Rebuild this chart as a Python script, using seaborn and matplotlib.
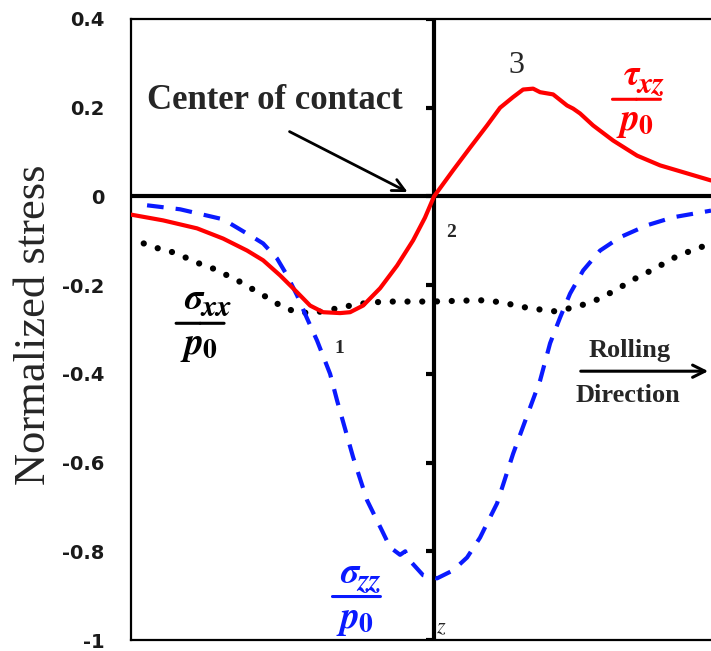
import numpy as np
import pandas as pd
import matplotlib
matplotlib.use("Agg")
import matplotlib.pyplot as plt
import seaborn as sns

# Position along the contact (normalized, 0 = center of contact)
x_txz = [-1.0, -0.894, -0.782, -0.696, -0.617, -0.564, -0.508, -0.452, -0.409, -0.366,
         -0.310, -0.277, -0.234, -0.178, -0.122, -0.069, -0.030, 0.0, 0.063, 0.119,
         0.175, 0.218, 0.261, 0.294, 0.327, 0.350, 0.393, 0.439, 0.459, 0.482,
         0.525, 0.591, 0.670, 0.746, 0.835, 0.914]
txz = [-0.041, -0.054, -0.072, -0.095, -0.122, -0.144, -0.178, -0.216, -0.246, -0.261,
       -0.263, -0.261, -0.246, -0.207, -0.156, -0.099, -0.048, 0.0, 0.059, 0.110,
       0.160, 0.200, 0.224, 0.241, 0.243, 0.235, 0.230, 0.205, 0.198, 0.187,
       0.160, 0.126, 0.092, 0.070, 0.052, 0.036]

x_szz = [-0.947, -0.838, -0.706, -0.673, -0.597, -0.564, -0.518, -0.485, -0.452, -0.419,
         -0.386, -0.343, -0.320, -0.267, -0.251, -0.221, -0.172, -0.145, -0.112, -0.095,
         -0.089, -0.036, 0.010, 0.063, 0.109, 0.152, 0.175, 0.208, 0.261, 0.317,
         0.350, 0.383, 0.416, 0.449, 0.492, 0.548, 0.614, 0.703, 0.789, 0.914]
szz = [-0.020, -0.029, -0.050, -0.061, -0.092, -0.106, -0.140, -0.178, -0.223, -0.275,
       -0.325, -0.400, -0.460, -0.588, -0.622, -0.685, -0.753, -0.791, -0.808, -0.800,
       -0.814, -0.854, -0.861, -0.843, -0.814, -0.769, -0.737, -0.692, -0.580, -0.476,
       -0.415, -0.331, -0.273, -0.219, -0.167, -0.122, -0.092, -0.065, -0.047, -0.032]

x_sxx = [-0.958, -0.911, -0.861, -0.812, -0.769, -0.719, -0.677, -0.630, -0.587, -0.545,
         -0.498, -0.452, -0.403, -0.353, -0.304, -0.254, -0.205, -0.155, -0.106, -0.056,
         -0.007, 0.046, 0.096, 0.152, 0.202, 0.251, 0.300, 0.350, 0.399, 0.449,
         0.498, 0.548, 0.591, 0.637, 0.677, 0.723, 0.769, 0.812, 0.861, 0.904]
sxx = [-0.106, -0.117, -0.126, -0.140, -0.153, -0.165, -0.180, -0.196, -0.214, -0.230,
       -0.250, -0.261, -0.263, -0.257, -0.250, -0.243, -0.239, -0.237, -0.237, -0.237,
       -0.237, -0.236, -0.235, -0.234, -0.237, -0.243, -0.250, -0.255, -0.259, -0.252,
       -0.243, -0.230, -0.214, -0.196, -0.180, -0.165, -0.147, -0.131, -0.120, -0.108]

y_ticks = [0.4, 0.2, 0.0, -0.2, -0.4, -0.6, -0.8, -1.0]
y_tick_labels = ["0.4", "0.2", "0", "-0.2", "-0.4", "-0.6", "-0.8", "-1"]

RED = "#ff0000"
BLUE = "#0a1aff"

sns.set_style("white")
plt.rcParams["mathtext.fontset"] = "stix"

fig = plt.figure(figsize=(7.11, 6.51), dpi=100)
ax = fig.add_axes([131 / 711, 11 / 651, 580 / 711, 621 / 651])

df_txz = pd.DataFrame({"x": x_txz, "stress": txz})
df_szz = pd.DataFrame({"x": x_szz, "stress": szz})
df_sxx = pd.DataFrame({"x": x_sxx, "stress": sxx})

# reference axes through the center of contact
ax.axhline(0, color="black", lw=3.0, zorder=1)
ax.axvline(0, color="black", lw=3.0, zorder=1)
ax.plot([0] * len(y_ticks), y_ticks, linestyle="none", marker=0,
        markersize=6, markeredgewidth=3, color="black", zorder=1)

sns.lineplot(data=df_sxx, x="x", y="stress", ax=ax, color="black", lw=4.5,
             linestyle=(0, (0.01, 2.35)), dash_capstyle="round",
             estimator=None, sort=False, zorder=3)
sns.lineplot(data=df_szz, x="x", y="stress", ax=ax, color=BLUE, lw=3.0,
             linestyle=(0, (4.0, 2.9)), estimator=None, sort=False, zorder=3)
sns.lineplot(data=df_txz, x="x", y="stress", ax=ax, color=RED, lw=3.0,
             estimator=None, sort=False, zorder=4)

ax.set_xlim(-1.0, 0.914)
ax.set_ylim(-1.0, 0.4)
ax.set_xticks([])
ax.set_xlabel("")
ax.set_yticks(y_ticks)
ax.set_yticklabels(y_tick_labels, fontsize=14, fontweight="bold",
                   fontfamily="DejaVu Sans", color="#1a1a1a")
ax.tick_params(axis="y", length=0, pad=19)

for side in ["left", "top", "bottom"]:
    ax.spines[side].set_linewidth(1.6)
    ax.spines[side].set_color("black")
ax.spines["right"].set_visible(False)

ax.set_ylabel("Normalized stress", fontsize=32, fontfamily="Liberation Serif")
ax.yaxis.label.set_va("center")
ax.yaxis.set_label_coords(-0.167, 0.507)

serif = "Liberation Serif"
math_font = "STIXGeneral"


def put(txt, x, y, dx, dy, **kw):
    """Place text at a data point shifted by (dx, dy) pixels (dy positive = down)."""
    ax.annotate(txt, xy=(x, y), xytext=(dx, -dy), textcoords="offset pixels",
                annotation_clip=False, **kw)


def stress_fraction(x, y, symbol, sub, color):
    """Draw symbol_sub / p_0 as a stacked fraction centred on (x, y)."""
    style = dict(fontfamily=math_font, fontstyle="italic", fontweight="bold",
                 color=color, va="baseline")
    put(symbol, x, y, 2, -14, ha="right", fontsize=26, **style)
    put(sub, x, y, 1, -7, ha="left", fontsize=22, **style)
    put("p", x, y, 3, 31, ha="right", fontsize=27, **style)
    put("0", x, y, 2, 35, ha="left", fontsize=20, color=color, va="baseline",
        fontfamily=math_font, fontweight="bold")
    ax.annotate("", xy=(x, y), xytext=(-24, 0), textcoords="offset pixels",
                arrowprops=dict(arrowstyle="-", lw=2.2, color=color,
                                shrinkA=0, shrinkB=0))
    ax.annotate("", xy=(x, y), xytext=(24, 0), textcoords="offset pixels",
                arrowprops=dict(arrowstyle="-", lw=2.2, color=color,
                                shrinkA=0, shrinkB=0))


ax.text(-0.525, 0.216, "Center of contact", fontsize=25, fontweight="bold",
        fontfamily=serif, ha="center", va="center")
ax.annotate("", xy=(-0.079, 0.007), xytext=(-0.485, 0.149),
            arrowprops=dict(arrowstyle="->", lw=2, color="black",
                            mutation_scale=22))

ax.text(0.271, 0.295, "3", fontsize=23, fontfamily=serif, ha="center", va="center")
ax.text(0.055, -0.081, "2", fontsize=14, fontweight="bold", fontfamily=serif,
        ha="center", va="center")
ax.text(-0.314, -0.343, "1", fontsize=14, fontweight="bold", fontfamily=serif,
        ha="center", va="center")
ax.text(0.023, -0.972, "$z$", fontsize=16, ha="center", va="center")

stress_fraction(0.668, 0.219, "τ", "xz", RED)
stress_fraction(-0.772, -0.286, "σ", "xx", "black")
stress_fraction(-0.256, -0.902, "σ", "zz", BLUE)

ax.text(0.644, -0.347, "Rolling", fontsize=19, fontweight="bold", fontfamily=serif,
        ha="center", va="center")
ax.annotate("", xy=(0.914, -0.394), xytext=(0.475, -0.394),
            arrowprops=dict(arrowstyle="->", lw=2.2, color="black",
                            mutation_scale=22))
ax.text(0.640, -0.449, "Direction", fontsize=19, fontweight="bold", fontfamily=serif,
        ha="center", va="center")

fig.savefig("out.png", dpi=100)
